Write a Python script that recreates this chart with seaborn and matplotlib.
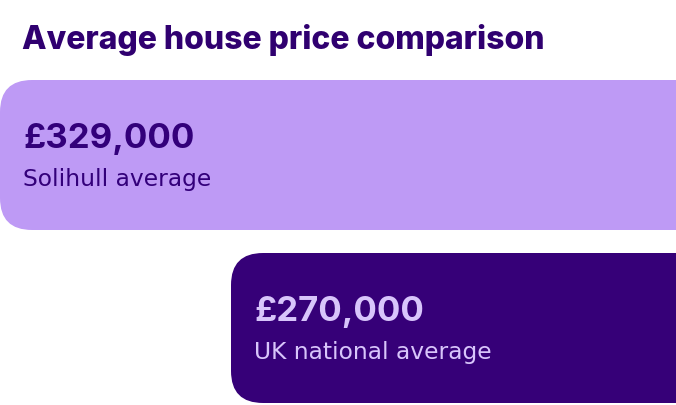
import matplotlib
matplotlib.use("Agg")
import matplotlib.pyplot as plt
import matplotlib.transforms as mtransforms
from matplotlib.patches import FancyBboxPatch
import seaborn as sns
import pandas as pd

# ---- data ----
areas = ["Solihull average", "UK national average"]
prices = [329000, 270000]
title = "Average house price comparison"

# ---- style ----
bar_colors = ["#BE9AF5", "#360078"]
text_colors = ["#33007A", "#D8C5FB"]
title_color = "#300070"
FONT = "Inter"

sns.set_theme(style="white")
plt.rcParams["font.family"] = [FONT, "DejaVu Sans"]

W, H = 676, 405
fig = plt.figure(figsize=(W / 100, H / 100), dpi=100)
ax = fig.add_axes([0, 0, 1, 1])

df = pd.DataFrame({"area": areas, "price": prices})
sns.barplot(data=df, y="area", x="price", hue="area", palette=bar_colors,
            orient="h", width=0.867, ax=ax, legend=False, saturation=1)

# axis scaling (bars grow to the left from beyond the right edge)
px_per_unit = 231 / (prices[0] - prices[1])
ax.set_xlim(prices[0], prices[0] - W / px_per_unit)
ax.set_ylim(-155 / 173 + 405 / 173, -155 / 173)
ax.axis("off")

# replace bars with rounded versions (via display coords)
radius = 32
for p in list(ax.patches):
    x0, y0 = p.get_x(), p.get_y()
    w, h = p.get_width(), p.get_height()
    (a, b) = ax.transData.transform((x0, y0))
    (c, d) = ax.transData.transform((x0 + w, y0 + h))
    left, right = min(a, c), max(a, c)
    bottom, top = min(b, d), max(b, d)
    fb = FancyBboxPatch((left, bottom), right - left, top - bottom,
                        boxstyle=f"round,pad=0,rounding_size={radius}",
                        facecolor=p.get_facecolor(), edgecolor="none",
                        transform=mtransforms.IdentityTransform())
    p.remove()
    ax.add_patch(fb)

for i, (area, price) in enumerate(zip(areas, prices)):
    t1 = mtransforms.offset_copy(ax.transData, fig=fig, x=23, y=7, units="dots")
    ax.text(price, i, f"£{price:,}", transform=t1, ha="left", va="baseline",
            fontsize=25, fontweight="bold", color=text_colors[i])
    t2 = mtransforms.offset_copy(ax.transData, fig=fig, x=23, y=-31, units="dots")
    ax.text(price, i, area, transform=t2, ha="left", va="baseline",
            fontsize=16.8, color=text_colors[i], family=["DejaVu Sans"])

fig.text(22 / W, 1 - 48.5 / H, title, ha="left", va="baseline",
         fontsize=23, fontweight="heavy", color=title_color)

fig.savefig("out.png", dpi=100, facecolor="white")
